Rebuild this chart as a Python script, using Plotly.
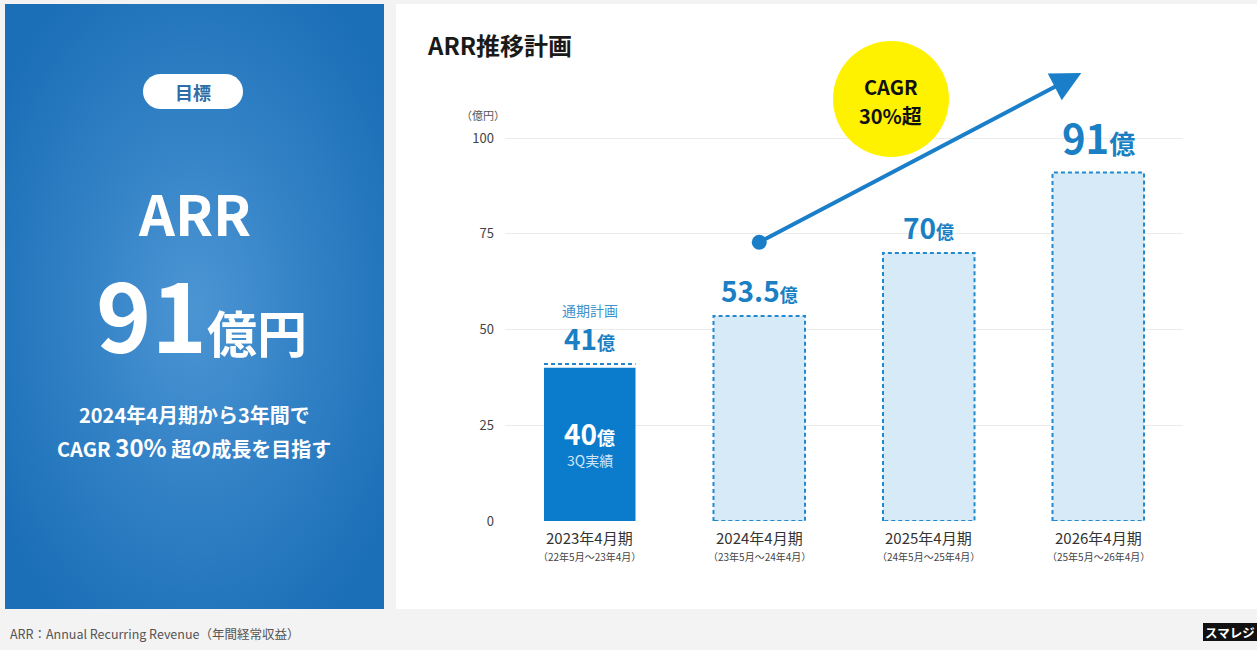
import base64
import math
import plotly.graph_objects as go

# ---- data -------------------------------------------------------------
periods = ["2023年4月期", "2024年4月期", "2025年4月期", "2026年4月期"]
spans = ["（22年5月～23年4月）", "（23年5月～24年4月）", "（24年5月～25年4月）", "（25年5月～26年4月）"]
plan = [41, 53.5, 70, 91]          # ARR plan (億円)
actual = [40, None, None, None]    # 3Q actual
y_ticks = [0, 25, 50, 75, 100]
cagr_start, cagr_end = (1, 72.8), (2.9, 117)

FONT = "Noto Sans CJK JP"
BLUE = "#0b7bcc"
LINE_BLUE = "#2389cf"
LABEL_BLUE = "#1a7fc3"
LIGHT = "#d6eaf7"
PAGE_BG = "#f3f3f3"
W, H = 1257, 650          # figure size
LAYOUT_H = 641            # vertical extent used for placing page elements
BAR_W = 0.54


def px(x, y):
    """layout position (pixels from top-left) -> paper coordinates"""
    return x / W, 1 - y / LAYOUT_H


fig = go.Figure()

# light plan bars (only where no actual yet)
px_plan = [i for i, a in enumerate(actual) if a is None]
fig.add_trace(go.Bar(x=px_plan, y=[plan[i] for i in px_plan], width=BAR_W,
                     marker=dict(color=LIGHT, line=dict(width=0)), hoverinfo="skip"))
# solid actual bar
px_act = [i for i, a in enumerate(actual) if a is not None]
fig.add_trace(go.Bar(x=px_act, y=[actual[i] for i in px_act], width=BAR_W,
                     marker=dict(color=BLUE, line=dict(width=0)), hoverinfo="skip"))

# dashed plan outlines
ox, oy = [], []
for i, v in enumerate(plan):
    l, r = i - BAR_W / 2, i + BAR_W / 2
    if actual[i] is None:
        ox += [l, l, r, r, l, None]
        oy += [0, v, v, 0, 0, None]
    else:
        ox += [l, r, None]
        oy += [v, v, None]
fig.add_trace(go.Scatter(x=ox, y=oy, mode="lines", hoverinfo="skip",
                         line=dict(color=LINE_BLUE, width=2, dash="4px,3px")))

# CAGR arrow start point
fig.add_trace(go.Scatter(x=[cagr_start[0]], y=[cagr_start[1]], mode="markers", hoverinfo="skip",
                         marker=dict(color="#1a7fc8", size=15, line=dict(width=0))))
fig.add_annotation(x=cagr_end[0], y=cagr_end[1], ax=cagr_start[0], ay=cagr_start[1],
                   xref="x", yref="y", axref="x", ayref="y", text="", showarrow=True,
                   arrowhead=2, arrowsize=1.5, arrowwidth=4, arrowcolor="#1a7fc8")

# value labels above bars
for i, v in enumerate(plan):
    big = 40 if i == len(plan) - 1 else 28
    num = f"{v:g}"
    fig.add_annotation(x=i, y=v, xref="x", yref="y", yanchor="bottom", showarrow=False,
                       yshift=4,
                       text=f"<b><span style='font-size:{big}px'>{num}</span>"
                            f"<span style='font-size:{int(big*0.66)}px'>億</span></b>",
                       font=dict(family=FONT, color=LABEL_BLUE))
    if actual[i] is not None:
        fig.add_annotation(x=i, y=v, xref="x", yref="y", yanchor="bottom", showarrow=False,
                           yshift=42, text="通期計画",
                           font=dict(family=FONT, size=14, color="#3d93cc"))
        fig.add_annotation(x=i, y=actual[i] / 2 + 3, xref="x", yref="y", showarrow=False,
                           text=f"<b><span style='font-size:28px'>{actual[i]:g}</span>"
                                f"<span style='font-size:18px'>億</span></b>",
                           font=dict(family=FONT, color="white"))
        fig.add_annotation(x=i, y=actual[i] / 2 + 3, xref="x", yref="y", showarrow=False,
                           yshift=-27, text="3Q実績",
                           font=dict(family=FONT, size=14, color="#cfe6f7"))

# period labels under each bar
for i, (p, s) in enumerate(zip(periods, spans)):
    fig.add_annotation(x=i, y=px(0, 537)[1], xref="x", yref="paper", showarrow=False,
                       yanchor="middle", text=p, font=dict(family=FONT, size=15, color="#333333"))
    fig.add_annotation(x=i, y=px(0, 556)[1], xref="x", yref="paper", showarrow=False,
                       yanchor="middle", text=s, font=dict(family=FONT, size=10, color="#444444"))

# ---- page backgrounds -------------------------------------------------
shapes = []
x0, y1 = px(396, 4)
x1, y0 = px(1257, 609)
shapes.append(dict(type="rect", xref="paper", yref="paper", x0=x0, x1=x1, y0=y0, y1=y1,
                   fillcolor="white", line=dict(width=0), layer="below"))

# yellow CAGR badge
cx, cy, rad = 891, 99, 58
a0, b0 = px(cx - rad, cy + rad)
a1, b1 = px(cx + rad, cy - rad)
shapes.append(dict(type="circle", xref="paper", yref="paper", x0=a0, x1=a1, y0=b0, y1=b1,
                   fillcolor="#fff200", line=dict(width=0), layer="above"))


def P(x, y):
    a, b = px(x, y)
    return f"{a},{b}"


# pill "目標"
pl, pt, pr, pb = 143, 74, 243, 109
rr = (pb - pt) / 2
mid = (pt + pb) / 2
pts = [P(pr - rr + rr * math.sin(t / 20 * math.pi), mid - rr * math.cos(t / 20 * math.pi)) for t in range(21)]
pts += [P(pl + rr - rr * math.sin(t / 20 * math.pi), mid + rr * math.cos(t / 20 * math.pi)) for t in range(21)]
path = "M" + " L".join(pts) + " Z"
shapes.append(dict(type="path", xref="paper", yref="paper", path=path,
                   fillcolor="white", line=dict(width=0), layer="above"))

# logo box
l0, t0 = px(1203, 623)
l1, t1 = px(1257, 641)
shapes.append(dict(type="rect", xref="paper", yref="paper", x0=l0, x1=l1, y0=t1, y1=t0,
                   fillcolor="#111111", line=dict(width=0)))

# radial-gradient blue panel
svg = ("<svg xmlns='http://www.w3.org/2000/svg' width='379' height='605' viewBox='0 0 379 605' "
       "preserveAspectRatio='none'><defs><radialGradient id='g' cx='0.5' cy='0.5' r='0.62'>"
       "<stop offset='0' stop-color='#4c95d3'/><stop offset='0.55' stop-color='#2f7fc4'/>"
       "<stop offset='1' stop-color='#1b6fb6'/></radialGradient></defs>"
       "<rect width='379' height='605' fill='url(#g)'/></svg>")
src = "data:image/svg+xml;base64," + base64.b64encode(svg.encode()).decode()
ix, iy = px(5, 4)
images = [dict(source=src, xref="paper", yref="paper", x=ix, y=iy, sizex=379 / W,
               sizey=605 / LAYOUT_H, xanchor="left", yanchor="top", sizing="stretch", layer="below")]


# ---- free text --------------------------------------------------------
def txt(x, y, text, size, color, xanchor="center", bold=False):
    a, b = px(x, y)
    fig.add_annotation(x=a, y=b, xref="paper", yref="paper", showarrow=False, xanchor=xanchor,
                       yanchor="middle", text=f"<b>{text}</b>" if bold else text,
                       font=dict(family=FONT, size=size, color=color))


txt(193, 92, "目標", 18, "#2e6ea6", bold=True)
txt(194, 211, "ARR", 56, "white", bold=True)
txt(201, 312, "<span style='font-size:94px'>91</span><span style='font-size:50px'>億円</span>",
    50, "white", bold=True)
txt(194, 415, "2024年4月期から3年間で", 20, "white", bold=True)
txt(194, 447, "CAGR <span style='font-size:24px'>30%</span> 超の成長を目指す", 20, "white", bold=True)

txt(425, 44, "ARR推移計画", 24, "#1a1a1a", xanchor="left", bold=True)
txt(483, 115, "（億円）", 11, "#555555")
txt(891, 87, "CAGR", 20, "#111111", bold=True)
txt(891, 116, "30%超", 20, "#111111", bold=True)
txt(8, 633, "ARR：Annual Recurring Revenue（年間経常収益）", 12.5, "#555555", xanchor="left")
txt(1230, 632, "スマレジ", 12.5, "white", bold=True)

# ---- axes / layout ----------------------------------------------------
y_lo = (LAYOUT_H - 521) / LAYOUT_H
unit = (521 - 138) / 100
y_top_val = 130
y_hi = (LAYOUT_H - (521 - unit * y_top_val)) / LAYOUT_H

fig.update_layout(
    width=W, height=H, margin=dict(l=0, r=0, t=0, b=0),
    paper_bgcolor=PAGE_BG, plot_bgcolor="rgba(0,0,0,0)",
    showlegend=False, barmode="overlay", shapes=shapes, images=images,
    font=dict(family=FONT),
    xaxis=dict(domain=[505 / W, 1183 / W], range=[-0.5, 3.5], showticklabels=False,
               showgrid=False, zeroline=False, showline=False, ticks="", fixedrange=True),
    yaxis=dict(domain=[y_lo, y_hi], range=[0, y_top_val], tickmode="array", tickvals=y_ticks,
               showgrid=True, gridcolor="#ebebeb", gridwidth=1, zeroline=False, showline=False,
               ticks="", ticklabelstandoff=10,
               tickfont=dict(family=FONT, size=13, color="#444444"), fixedrange=True),
)

fig.write_html("out.html",
               post_script=f"document.body.style.margin='0';document.body.style.background='{PAGE_BG}';")
